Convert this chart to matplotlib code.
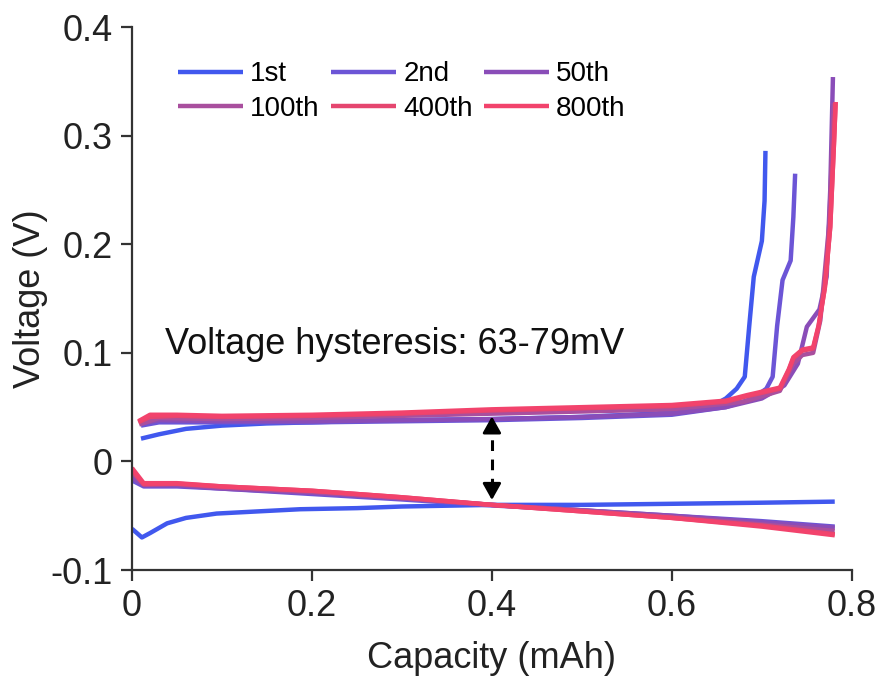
import matplotlib
matplotlib.use("Agg")
import matplotlib.pyplot as plt
from matplotlib import ticker

plt.rcParams["font.family"] = ["Liberation Sans", "DejaVu Sans"]
plt.rcParams["axes.unicode_minus"] = False

cycles = ["1st", "2nd", "50th", "100th", "400th", "800th"]
colors = ["#4158ee", "#6c55d6", "#8a4db8", "#a94f9e", "#e5466f", "#f2436c"]

# charge branches (upper curves)
q_chg_1st = [0.01, 0.03, 0.06, 0.10, 0.15, 0.20, 0.28, 0.40, 0.50, 0.58, 0.62,
             0.645, 0.660, 0.672, 0.681, 0.686, 0.691, 0.700, 0.703, 0.704]
v_chg_1st = [0.021, 0.025, 0.030, 0.033, 0.035, 0.036, 0.038, 0.039, 0.041, 0.044, 0.047,
             0.051, 0.058, 0.067, 0.078, 0.125, 0.170, 0.203, 0.240, 0.286]

q_chg_2nd = [0.01, 0.03, 0.10, 0.20, 0.30, 0.40, 0.50, 0.60, 0.66, 0.69,
             0.705, 0.712, 0.717, 0.723, 0.732, 0.735, 0.737]
v_chg_2nd = [0.033, 0.036, 0.036, 0.036, 0.037, 0.038, 0.040, 0.043, 0.050, 0.058,
             0.067, 0.078, 0.125, 0.167, 0.185, 0.225, 0.265]

q_chg_50th = [0.01, 0.03, 0.10, 0.20, 0.30, 0.40, 0.50, 0.60, 0.66, 0.70,
              0.725, 0.740, 0.750, 0.764, 0.772, 0.776, 0.779]
v_chg_50th = [0.035, 0.038, 0.037, 0.037, 0.038, 0.039, 0.041, 0.044, 0.050, 0.058,
              0.070, 0.090, 0.124, 0.140, 0.170, 0.250, 0.354]

q_chg_100th = [0.008, 0.03, 0.10, 0.20, 0.30, 0.40, 0.50, 0.60, 0.68, 0.72,
               0.735, 0.745, 0.757, 0.765, 0.775, 0.780]
v_chg_100th = [0.034, 0.040, 0.039, 0.040, 0.042, 0.044, 0.046, 0.048, 0.055, 0.065,
               0.090, 0.098, 0.100, 0.130, 0.220, 0.330]

q_chg_400th = [0.007, 0.02, 0.05, 0.10, 0.20, 0.30, 0.40, 0.50, 0.60, 0.66, 0.683,
               0.72, 0.73, 0.735, 0.745, 0.757, 0.763, 0.770, 0.776, 0.780, 0.782]
v_chg_400th = [0.036, 0.041, 0.042, 0.041, 0.042, 0.044, 0.047, 0.049, 0.051, 0.055, 0.060,
               0.067, 0.084, 0.095, 0.102, 0.104, 0.124, 0.160, 0.216, 0.290, 0.331]

q_chg_800th = [0.007, 0.02, 0.05, 0.10, 0.20, 0.30, 0.40, 0.50, 0.60, 0.66, 0.683,
               0.72, 0.73, 0.735, 0.745, 0.757, 0.763, 0.770, 0.776, 0.780, 0.782]
v_chg_800th = [0.037, 0.043, 0.043, 0.042, 0.043, 0.045, 0.048, 0.050, 0.052, 0.056, 0.061,
               0.068, 0.085, 0.096, 0.103, 0.105, 0.125, 0.160, 0.216, 0.290, 0.331]

# discharge branches (lower curves)
q_dis_1st = [0.0, 0.011, 0.02, 0.039, 0.06, 0.094, 0.14, 0.187, 0.25, 0.30,
             0.40, 0.50, 0.60, 0.70, 0.781]
v_dis_1st = [-0.062, -0.070, -0.066, -0.057, -0.052, -0.048, -0.046, -0.044, -0.043, -0.0415,
             -0.040, -0.040, -0.039, -0.038, -0.037]

q_dis = [0.0, 0.013, 0.05, 0.10, 0.20, 0.30, 0.40, 0.50, 0.60, 0.70, 0.781]
v_dis_2nd = [-0.0175, -0.023, -0.023, -0.025, -0.030, -0.035, -0.0405, -0.045, -0.050, -0.055, -0.060]
v_dis_50th = [-0.015, -0.022, -0.022, -0.025, -0.029, -0.034, -0.040, -0.045, -0.050, -0.056, -0.061]
v_dis_100th = [-0.010, -0.021, -0.021, -0.024, -0.028, -0.034, -0.040, -0.045, -0.051, -0.058, -0.064]
v_dis_400th = [-0.008, -0.021, -0.0205, -0.023, -0.027, -0.033, -0.040, -0.046, -0.052, -0.059, -0.067]
v_dis_800th = [-0.006, -0.020, -0.020, -0.023, -0.027, -0.033, -0.040, -0.046, -0.052, -0.060, -0.068]

charge = [(q_chg_1st, v_chg_1st), (q_chg_2nd, v_chg_2nd), (q_chg_50th, v_chg_50th),
          (q_chg_100th, v_chg_100th), (q_chg_400th, v_chg_400th), (q_chg_800th, v_chg_800th)]
discharge = [(q_dis_1st, v_dis_1st), (q_dis, v_dis_2nd), (q_dis, v_dis_50th),
             (q_dis, v_dis_100th), (q_dis, v_dis_400th), (q_dis, v_dis_800th)]

# hysteresis marker between the two branches at 0.4 mAh
arrow_q = 0.4
arrow_top = 0.0415
arrow_bot = -0.0355

fig = plt.figure(figsize=(8.8, 6.77), dpi=100)
ax = fig.add_axes([0.15, 0.158, 0.818, 0.802])

handles = []
for name, col, (qc, vc), (qd, vd) in zip(cycles, colors, charge, discharge):
    h, = ax.plot(qc, vc, color=col, lw=3.2, label=name, solid_capstyle="butt")
    ax.plot(qd, vd, color=col, lw=3.2, solid_capstyle="butt")
    handles.append(h)

ax.plot([arrow_q, arrow_q], [arrow_bot + 0.01, arrow_top - 0.01], color="black",
        lw=2.2, ls=(0, (3.5, 2.8)))
for tip, tail in ((arrow_top, arrow_top - 0.012), (arrow_bot, arrow_bot + 0.012)):
    ax.annotate("", xy=(arrow_q, tip), xytext=(arrow_q, tail),
                arrowprops=dict(arrowstyle="-|>,head_length=0.5,head_width=0.28",
                                color="black", lw=2.0, shrinkA=0, shrinkB=0,
                                mutation_scale=20))

ax.text(0.037, 0.108, "Voltage hysteresis: 63-79mV", fontsize=26, va="center",
        ha="left", color="#111111")

ax.set_xlim(0, 0.8)
ax.set_ylim(-0.1, 0.4)
ax.set_xticks([0, 0.2, 0.4, 0.6, 0.8])
ax.set_yticks([-0.1, 0, 0.1, 0.2, 0.3, 0.4])
ax.xaxis.set_major_formatter(ticker.FormatStrFormatter("%g"))
ax.yaxis.set_major_formatter(ticker.FormatStrFormatter("%g"))
for side in ("top", "right"):
    ax.spines[side].set_visible(False)
for side in ("left", "bottom"):
    ax.spines[side].set_linewidth(1.6)
    ax.spines[side].set_color("#333333")
ax.tick_params(direction="out", length=8, width=1.6, color="#333333",
               labelsize=26, labelcolor="#222222", pad=6)

ax.set_xlabel("Capacity (mAh)", fontsize=26, color="#222222", labelpad=12)
ax.set_ylabel("Voltage (V)", fontsize=26, color="#222222", labelpad=2)

# legend fills column-wise, so reorder to read across rows
order = [0, 3, 1, 4, 2, 5]
ax.legend([handles[i] for i in order], [cycles[i] for i in order],
          loc="upper left", bbox_to_anchor=(0.064, 0.937), ncol=3, frameon=False,
          fontsize=20, handlelength=2.35, handletextpad=0.25, columnspacing=0.4,
          labelspacing=0.3, borderpad=0, borderaxespad=0)

fig.savefig("out.png", dpi=100)
